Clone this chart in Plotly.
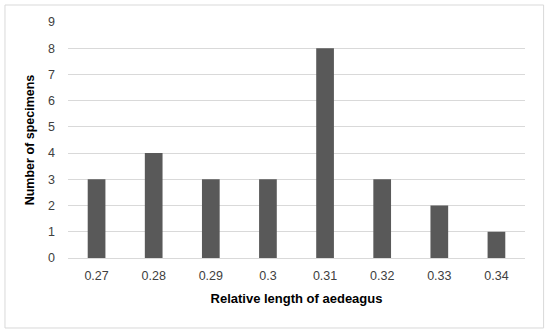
import plotly.graph_objects as go

categories = ["0.27", "0.28", "0.29", "0.3", "0.31", "0.32", "0.33", "0.34"]
counts = [3, 4, 3, 3, 8, 3, 2, 1]
y_ticks = [0, 1, 2, 3, 4, 5, 6, 7, 8, 9]

fig = go.Figure(go.Bar(x=categories, y=counts, marker=dict(color="#595959", line=dict(width=0)),
                       width=0.31))

fig.update_layout(
    width=550, height=334,
    margin=dict(l=68, r=25, t=22, b=76, autoexpand=False),
    paper_bgcolor="white", plot_bgcolor="white",
    font=dict(family="Liberation Sans, Arial", size=12, color="#404040"),
    showlegend=False,
    xaxis=dict(type="category", showgrid=False, showline=True, linecolor="#d9d9d9", linewidth=1,
               ticks="", tickfont=dict(size=12.5, color="#404040"), ticklabelstandoff=6,
               title=dict(text="<b>Relative length of aedeagus</b>", font=dict(size=13, color="#000000"), standoff=11)),
    yaxis=dict(range=[0, 9], tickvals=y_ticks, showgrid=True, gridcolor="#d9d9d9", gridwidth=1,
               zeroline=False, showline=False, ticks="", ticklabelstandoff=12,
               tickfont=dict(size=12.5, color="#404040"),
               title=dict(text="<b>Number of specimens</b>", font=dict(size=12.5, color="#000000"), standoff=10)),
    shapes=[dict(type="rect", xref="paper", yref="paper", x0=-0.1379, x1=1.0407, y0=-0.2966, y1=1.0720,
                 line=dict(color="#d9d9d9", width=1), fillcolor="rgba(0,0,0,0)", layer="below")],
)

fig.write_html("out.html", config={"displayModeBar": False},
               post_script="document.body.style.margin='0';")
